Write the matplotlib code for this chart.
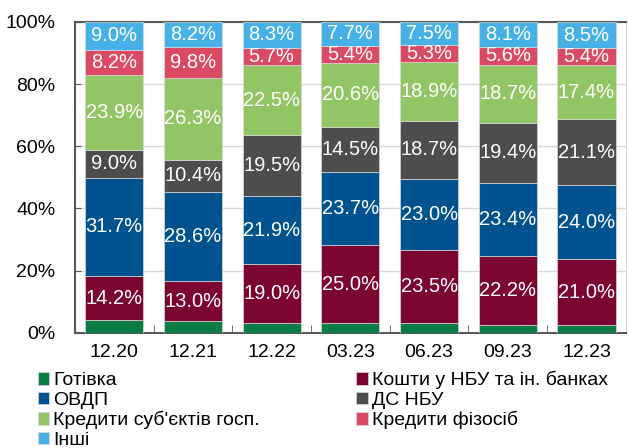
import matplotlib
matplotlib.use("Agg")
import matplotlib.pyplot as plt
import numpy as np

plt.rcParams['font.family'] = ['Liberation Sans', 'DejaVu Sans']

# Дати (категорії)
dates = ["12.20", "12.21", "12.22", "03.23", "06.23", "09.23", "12.23"]

# Частки, %
gotivka = [4.0, 3.7, 3.1, 3.1, 3.1, 2.6, 2.6]
koshty_nbu = [14.2, 13.0, 19.0, 25.0, 23.5, 22.2, 21.0]
ovdp = [31.7, 28.6, 21.9, 23.7, 23.0, 23.4, 24.0]
ds_nbu = [9.0, 10.4, 19.5, 14.5, 18.7, 19.4, 21.1]
kred_sg = [23.9, 26.3, 22.5, 20.6, 18.9, 18.7, 17.4]
kred_fiz = [8.2, 9.8, 5.7, 5.4, 5.3, 5.6, 5.4]
inshi = [9.0, 8.2, 8.3, 7.7, 7.5, 8.1, 8.5]

series = [
    ("Готівка", gotivka, "#0a7d45", False),
    ("Кошти у НБУ та ін. банках", koshty_nbu, "#7b0530", True),
    ("ОВДП", ovdp, "#00538e", True),
    ("ДС НБУ", ds_nbu, "#4d4d4d", True),
    ("Кредити суб'єктів госп.", kred_sg, "#92c665", True),
    ("Кредити фізосіб", kred_fiz, "#db4a63", True),
    ("Інші", inshi, "#46b1e6", True),
]

fig = plt.figure(figsize=(6.29, 4.48), dpi=100)
ax = fig.add_axes([0.119, 0.257, 0.876, 0.694])

x = np.arange(len(dates))
bottom = np.zeros(len(dates))
handles = []
for name, vals, color, show in series:
    vals = np.array(vals)
    b = ax.bar(x, vals, width=0.74, bottom=bottom, color=color,
               edgecolor="#d9d9d9", linewidth=0.5, label=name, zorder=3)
    handles.append(b)
    if show:
        for xi, v, b0 in zip(x, vals, bottom):
            ax.text(xi, b0 + v / 2, f"{v:.1f}%", ha="center", va="center",
                    color="white", fontsize=14.5, zorder=4)
    bottom += vals

ax.set_xlim(-0.5, len(dates) - 0.5)
ax.set_ylim(0, 100)
ax.set_yticks(range(0, 101, 20))
ax.set_yticklabels([f"{v}%" for v in range(0, 101, 20)], fontsize=14)
ax.set_xticks(x)
ax.set_xticklabels(dates, fontsize=14)
ax.set_xticks(np.arange(0.5, len(dates) - 1, 1), minor=True)
ax.tick_params(axis="x", which="major", length=0, pad=8)
ax.tick_params(axis="x", which="minor", direction="in", length=6, color="#595959")
ax.tick_params(axis="y", direction="in", length=4, color="#595959", pad=14)
ax.grid(axis="y", color="#d9d9d9", linewidth=1, zorder=0)

for s in ["left", "bottom", "top"]:
    ax.spines[s].set_color("#595959")
    ax.spines[s].set_linewidth(1.5)
ax.spines["right"].set_color("#d9d9d9")

# порядок легенди: рядками по два
order = [0, 2, 4, 6, 1, 3, 5]
fig.legend([handles[i] for i in order], [series[i][0] for i in order],
           ncol=2, loc="upper left", bbox_to_anchor=(0.06, 0.172),
           frameon=False, fontsize=14, handlelength=0.6, handleheight=0.6,
           handletextpad=0.2, labelspacing=0.12, columnspacing=4.95,
           borderpad=0, borderaxespad=0)

fig.savefig("out.png", dpi=100)
